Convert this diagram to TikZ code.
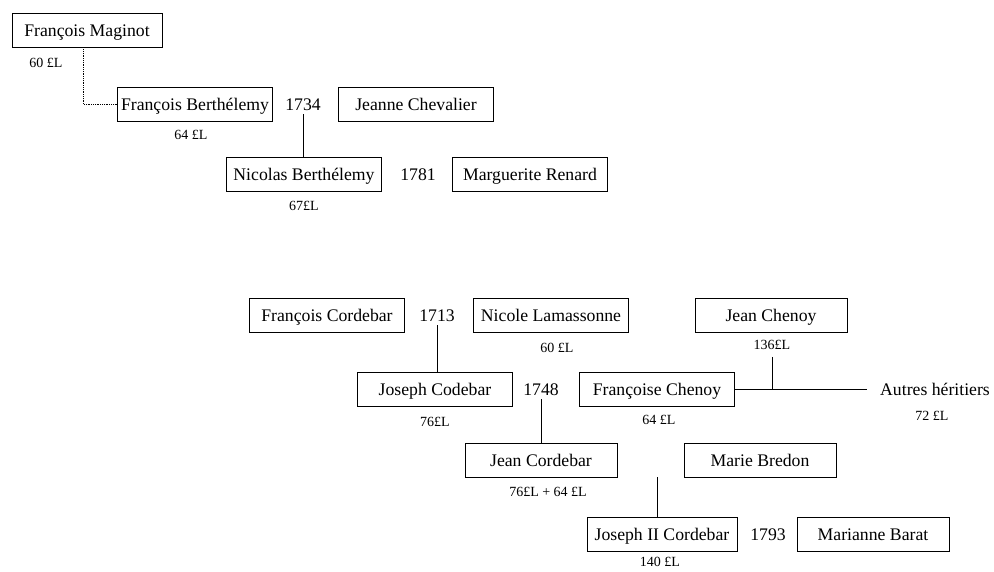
\documentclass[tikz,border=0pt]{standalone}
\usepackage{fontspec}
\setmainfont{Liberation Serif}
\begin{document}
\begin{tikzpicture}[x=1pt,y=-1pt,
  personne/.style={draw,black,line width=0.8pt,minimum width=155pt,minimum height=34pt,inner sep=0pt,text height=12pt,text depth=0pt,font=\fontsize{17.7}{20}\selectfont},
  annee/.style={inner sep=1pt,text height=12pt,text depth=0pt,font=\fontsize{17.7}{20}\selectfont},
  somme/.style={inner sep=1pt,text height=9.5pt,text depth=0pt,font=\fontsize{14}{16}\selectfont}]
\useasboundingbox (0,0) rectangle (994,571);
% branche Berthelemy
\node [personne,minimum width=150pt] (maginot) at (87,30) {François Maginot};
\node [somme] (s60a) at (46,63) {60 £L};
\node [personne] (fberth) at (195,104) {François Berthélemy};
\node [somme] (s64a) at (191,135) {64 £L};
\node [annee] (a1734) at (303,104) {1734};
\node [personne] (chevalier) at (416,104) {Jeanne Chevalier};
\node [personne] (nberth) at (304,174) {Nicolas Berthélemy};
\node [somme] (s67) at (304,206) {67£L};
\node [annee] (a1781) at (418,174) {1781};
\node [personne] (renard) at (530,174) {Marguerite Renard};
\draw [black,densely dotted,line width=0.8pt] ([xshift=-4pt]maginot.south) |- (fberth.west);
\draw [black,line width=0.8pt] ([yshift=-3pt]a1734.south) -- (a1734.south |- nberth.north);
% branche Cordebar
\node [personne] (fcordebar) at (327,315) {François Cordebar};
\node [annee] (a1713) at (437,315) {1713};
\node [personne] (lamassonne) at (551,315) {Nicole Lamassonne};
\node [somme] (s60b) at (557,348) {60 £L};
\node [personne] (jcodebar) at (435,389) {Joseph Codebar};
\node [somme] (s76) at (435,422) {76£L};
\node [annee] (a1748) at (541,389) {1748};
\node [personne] (fchenoy) at (657,389) {Françoise Chenoy};
\node [somme] (s64b) at (659,420) {64 £L};
\node [personne,minimum width=152pt] (jchenoy) at (771,315) {Jean Chenoy};
\node [somme] (s136) at (772,345) {136£L};
\node [annee] (autres) at (935,389) {Autres héritiers};
\node [somme] (s72) at (932,416) {72 £L};
\node [personne,minimum width=152pt] (jcordebar) at (541,460) {Jean Cordebar};
\node [somme] (s140b) at (548,492) {76£L + 64 £L};
\node [personne,minimum width=152pt] (bredon) at (760,460) {Marie Bredon};
\node [personne,minimum width=150pt] (jiicordebar) at (662,534) {Joseph II Cordebar};
\node [somme] (s140) at (660,562) {140 £L};
\node [annee] (a1793) at (768,534) {1793};
\node [personne,minimum width=152pt] (barat) at (873,534) {Marianne Barat};
\draw [black,line width=0.8pt] ([yshift=-3pt]a1713.south) -- (a1713.south |- jcodebar.north);
\draw [black,line width=0.8pt] ([yshift=-3pt]a1748.south) -- (a1748.south |- jcordebar.north);
\draw [black,line width=0.8pt,shorten >=12pt] (fchenoy.east) -- (autres.west);
\draw [black,line width=0.8pt] ([yshift=-6pt]s136.south) -- (s136.south |- fchenoy.east);
\draw [black,line width=0.8pt] ([xshift=-5pt]jiicordebar.north) -- ([xshift=-5pt]jiicordebar.north |- jcordebar.south);
\end{tikzpicture}
\end{document}
